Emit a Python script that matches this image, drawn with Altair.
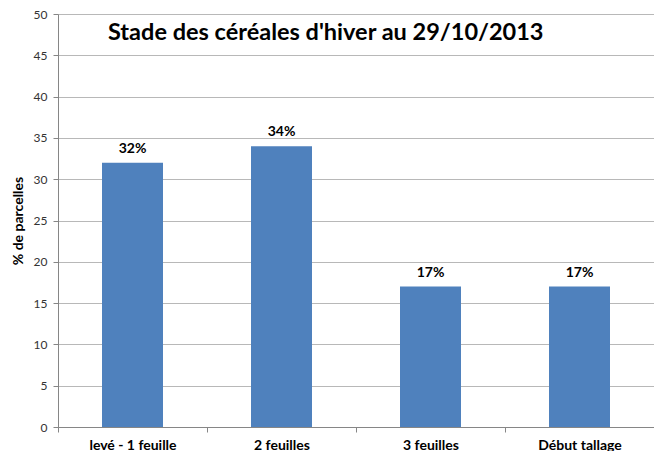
import altair as alt
import pandas as pd

categories = ["levé - 1 feuille", "2 feuilles", "3 feuilles", "Début tallage"]
values = [32, 34, 17, 17]
labels = ["32%", "34%", "17%", "17%"]
y_ticks = list(range(0, 51, 5))

df = pd.DataFrame({"cat": categories, "val": values, "lab": labels})

FONT = "Lato"

x = alt.X("cat:N", sort=categories, title=None,
          scale=alt.Scale(paddingInner=0, paddingOuter=0),
          axis=alt.Axis(labelAngle=0, labelFont=FONT, labelFontWeight="bold",
                        labelFontSize=14, labelColor="black", labelPadding=6,
                        tickBand="extent", tickSize=5, tickColor="#868686",
                        domainColor="#868686", grid=False))
y = alt.Y("val:Q", title="% de parcelles",
          scale=alt.Scale(domain=[0, 50], nice=False),
          axis=alt.Axis(values=y_ticks, labelFont=FONT, labelFontSize=12,
                        labelColor="#333333", labelPadding=6,
                        titleFont=FONT, titleFontSize=14, titleFontWeight="bold",
                        titleColor="black", titlePadding=8,
                        tickSize=5, tickColor="#868686", domainColor="#868686",
                        grid=True, gridColor="#b8b8b8"))

bars = alt.Chart(df).mark_bar(color="#4F81BD", size=61).encode(x=x, y=y)
text = alt.Chart(df).mark_text(font=FONT, fontWeight="bold", fontSize=14,
                               color="black", dy=-14).encode(
    x=alt.X("cat:N", sort=categories), y="val:Q", text="lab:N")

chart = (bars + text).properties(
    width=596, height=413,
    autosize=alt.AutoSizeParams(type="none"),
    padding={"left": 50, "top": 6, "right": 0, "bottom": 24},
    title=alt.TitleParams("Stade des céréales d'hiver au 29/10/2013",
                          font=FONT, fontSize=23.5, fontWeight="bold",
                          color="black", anchor="start", frame="group",
                          dx=50, dy=40),
).configure_view(stroke=None).configure(background="white")

chart.save("out.html", embed_options={"renderer": "svg", "actions": False})
